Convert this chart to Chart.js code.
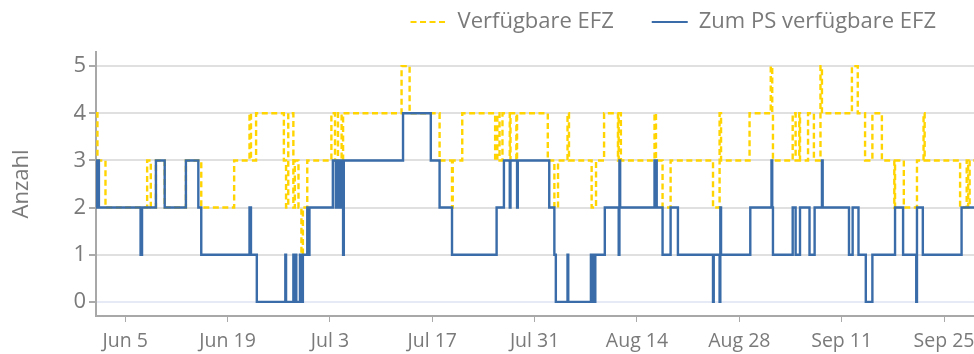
<!DOCTYPE html>
<html>
<head>
<meta charset="utf-8">
<script src="https://cdn.jsdelivr.net/npm/chart.js@4.4.0/dist/chart.umd.min.js"></script>
<style>
  body { margin: 0; background: #fff; }
  #wrap { width: 974px; height: 354px; }
</style>
</head>
<body>
<div id="wrap"><canvas id="efzChart"></canvas></div>
<script>
// days counted from Jun 1, value holds until the next change
const efzDays = [0, 0.2, 1.3, 7.0, 7.5, 8.2, 9.4, 12.3, 14.4, 18.9, 21.0, 21.2, 21.9, 25.7, 26.0, 26.3, 27.0, 27.2, 27.7, 28.1,
  28.3, 28.9, 32.2, 32.7, 33.1, 33.6, 33.8, 41.8, 42.9, 47.0, 48.7, 48.8, 50.1, 54.6, 54.9, 55.2, 55.6, 56.6, 56.7, 57.5,
  57.6, 61.8, 62.7, 63.2, 64.5, 64.7, 67.8, 68.4, 69.5, 71.4, 71.5, 71.8, 76.4, 76.6, 77.5, 78.6, 84.4, 85.3, 85.5, 89.4,
  92.3, 92.5, 92.6, 95.3, 95.7, 96.2, 96.3, 97.4, 98.2, 99.1, 99.3, 103.4, 104.2, 105.2, 106.2, 107.5, 109.2, 109.3, 110.5, 112.3,
  113.2, 113.35, 118.2, 119.1, 119.3, 119.5, 120.1];
const efzValues = [4, 3, 2, 3, 2, 3, 2, 3, 2, 3, 4, 3, 4, 3, 2, 4, 2, 3, 2, 1,
  2, 3, 4, 3, 4, 3, 4, 5, 4, 3, 2, 3, 4, 3, 4, 3, 4, 3, 4, 3,
  4, 3, 2, 3, 4, 3, 2, 3, 4, 3, 4, 3, 4, 3, 2, 3, 2, 4, 3, 4,
  5, 4, 3, 4, 3, 4, 3, 4, 3, 5, 4, 5, 4, 3, 4, 3, 2, 3, 2, 3,
  4, 3, 2, 3, 2, 3, 3];

const psDays = [0, 0.15, 0.25, 0.4, 6.1, 6.3, 8.2, 9.4, 12.3, 14.0, 14.4, 21.0, 21.2, 22.0, 25.9, 26.0, 27.0, 27.1, 27.3, 27.4,
  27.9, 28.1, 28.3, 28.9, 29.0, 29.2, 32.4, 32.8, 33.0, 33.2, 33.5, 33.8, 33.9, 42.0, 45.8, 47.0, 48.7, 54.8, 55.8, 56.6,
  56.7, 57.6, 57.7, 62.0, 62.7, 62.9, 64.5, 64.6, 67.7, 67.8, 68.0, 68.1, 68.3, 69.6, 71.5, 71.6, 71.7, 76.4, 76.7, 77.5,
  78.6, 79.6, 84.4, 84.5, 85.3, 85.4, 85.5, 89.5, 92.4, 92.5, 92.6, 95.3, 95.7, 96.3, 97.6, 98.3, 99.3, 99.4, 103.0, 103.5,
  104.3, 105.3, 106.2, 109.3, 110.4, 112.2, 112.3, 113.1, 118.4, 120.1];
const psValues = [3, 2, 3, 2, 1, 2, 3, 2, 3, 2, 1, 2, 1, 0, 1, 0, 1, 0, 1, 0,
  1, 0, 1, 2, 1, 2, 3, 2, 3, 2, 3, 1, 3, 4, 3, 2, 1, 2, 3, 2,
  3, 2, 3, 2, 1, 0, 1, 0, 1, 0, 1, 0, 1, 2, 1, 3, 2, 3, 2, 1,
  2, 1, 0, 1, 0, 2, 1, 2, 3, 2, 1, 2, 1, 2, 1, 2, 3, 2, 1, 2,
  1, 0, 1, 2, 1, 0, 2, 1, 2, 2];

const tickDays = [4, 18, 32, 46, 60, 74, 88, 102, 116];
const tickLabels = ['Jun 5', 'Jun 19', 'Jul 3', 'Jul 17', 'Jul 31', 'Aug 14', 'Aug 28', 'Sep 11', 'Sep 25'];
const yTicks = [0, 1, 2, 3, 4, 5];

const textColor = '#7a7a7a';
const fontFamily = "'Open Sans', 'Noto Sans', sans-serif";
const fontSize = 22;

function toPoints(days, values) {
  return days.map(function(d, i) { return { x: d, y: values[i] }; });
}

// give the legend some extra room below it
const legendSpace = {
  id: 'legendSpace',
  beforeInit: function(chart) {
    const fit = chart.legend.fit;
    chart.legend.fit = function() {
      fit.bind(chart.legend)();
      this.height += 9;
    };
  }
};

const efzChart = new Chart(document.getElementById('efzChart'), {
  type: 'line',
  data: {
    datasets: [
      {
        label: 'Zum PS verfügbare EFZ',
        data: toPoints(psDays, psValues),
        borderColor: '#396ca8',
        backgroundColor: '#396ca8',
        borderWidth: 2.4,
        stepped: 'before',
        pointRadius: 0,
        fill: false
      },
      {
        label: 'Verfügbare EFZ',
        data: toPoints(efzDays, efzValues),
        borderColor: '#ffd400',
        backgroundColor: '#ffd400',
        borderWidth: 2.4,
        borderDash: [6, 3.5],
        stepped: 'before',
        pointRadius: 0,
        fill: false
      }
    ]
  },
  options: {
    responsive: true,
    maintainAspectRatio: false,
    animation: false,
    layout: { padding: { top: -27, left: 0, right: 0, bottom: 0 } },
    plugins: {
      tooltip: { enabled: false },
      legend: {
        position: 'top',
        align: 'end',
        reverse: true,
        labels: {
          usePointStyle: true,
          pointStyle: 'line',
          pointStyleWidth: 36,
          padding: 38,
          color: textColor,
          font: { family: fontFamily, size: fontSize },
          generateLabels: function(chart) {
            const items = Chart.defaults.plugins.legend.labels.generateLabels(chart);
            items.forEach(function(item) {
              const ds = chart.data.datasets[item.datasetIndex];
              item.lineDash = ds.borderDash || [];
              item.lineWidth = 2.2;
            });
            return items;
          }
        }
      }
    },
    scales: {
      x: {
        type: 'linear',
        min: 0,
        max: 120.1,
        afterBuildTicks: function(axis) {
          axis.ticks = tickDays.map(function(v) { return { value: v }; });
        },
        afterFit: function(axis) {
          axis.height = 38;
          axis.paddingRight = 0;
        },
        ticks: {
          autoSkip: false,
          maxRotation: 0,
          padding: 8,
          color: textColor,
          font: { family: fontFamily, size: 19.5 },
          callback: function(value) { return tickLabels[tickDays.indexOf(value)]; }
        },
        grid: { drawOnChartArea: false, tickLength: 6, tickColor: '#aaaaaa' },
        border: { color: '#a8a8a8', width: 2 }
      },
      y: {
        min: -0.3,
        max: 5.3,
        afterBuildTicks: function(axis) {
          axis.ticks = yTicks.map(function(v) { return { value: v }; });
        },
        ticks: {
          padding: 3,
          color: textColor,
          font: { family: fontFamily, size: fontSize }
        },
        grid: {
          color: function(ctx) { return ctx.tick && ctx.tick.value === 0 ? '#e6eaf6' : '#e0e0e0'; },
          lineWidth: 2,
          tickLength: 7,
          tickColor: '#aaaaaa'
        },
        border: { color: '#a8a8a8', width: 2 },
        title: {
          display: true,
          text: 'Anzahl',
          color: textColor,
          font: { family: fontFamily, size: fontSize },
          padding: { top: 9, bottom: 35 }
        }
      }
    }
  },
  plugins: [legendSpace]
});
</script>
</body>
</html>
